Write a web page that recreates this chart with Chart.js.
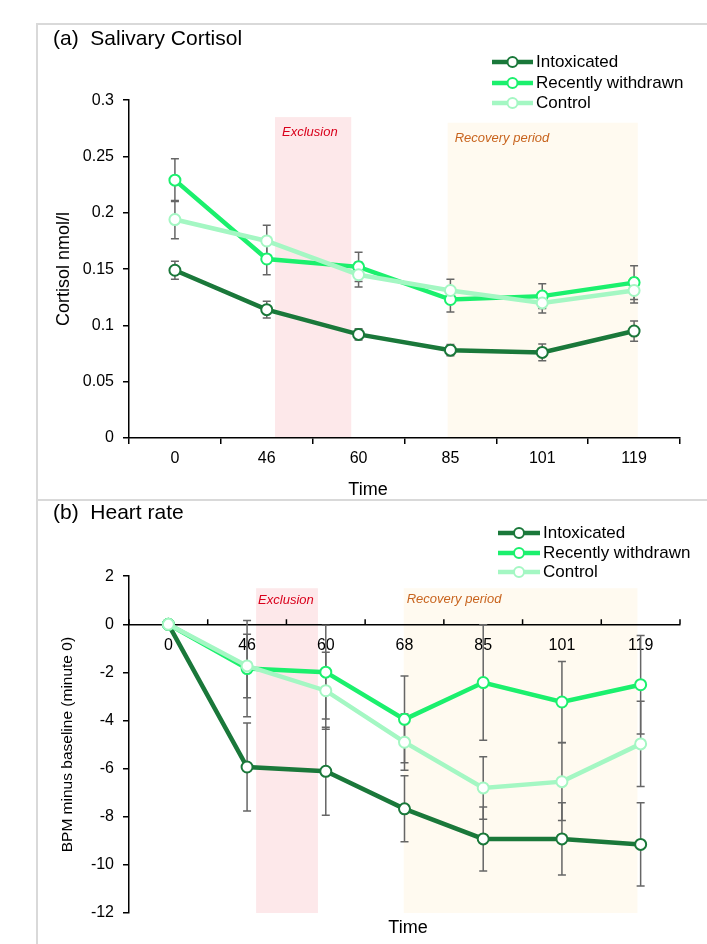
<!DOCTYPE html>
<html>
<head>
<meta charset="utf-8">
<script src="https://cdn.jsdelivr.net/npm/chart.js@4.4.1/dist/chart.umd.min.js"></script>
<style>
  body { margin: 0; background: #fff; width: 707px; height: 944px; overflow: hidden; position: relative; }
  #frame { position: absolute; left: 36px; top: 23px; width: 671px; height: 921px; border-left: 2px solid #d9d9d9; border-top: 2px solid #d9d9d9; }
  #sep { position: absolute; left: 38px; top: 499px; width: 669px; height: 2px; background: #d9d9d9; }
  #cortisol { position: absolute; left: 38px; top: 25px; }
  #heart { position: absolute; left: 38px; top: 501px; }
</style>
</head>
<body>
<div id="frame"></div>
<div id="sep"></div>
<canvas id="cortisol" width="669" height="474"></canvas>
<canvas id="heart" width="669" height="443"></canvas>
<script>
// panel (a) salivary cortisol, nmol/l
const timesA = ['0', '46', '60', '85', '101', '119'];
const cortIntox = [0.149, 0.114, 0.092, 0.078, 0.076, 0.095];
const cortIntoxErr = [0.008, 0.0075, 0.005, 0.005, 0.0075, 0.009];
const cortWithdrawn = [0.229, 0.159, 0.152, 0.123, 0.126, 0.138];
const cortWithdrawnErr = [0.019, 0.014, 0.013, 0.011, 0.011, 0.015];
const cortControl = [0.194, 0.175, 0.145, 0.131, 0.120, 0.131];
const cortControlErr = [0.017, 0.014, 0.011, 0.010, 0.009, 0.011];
const cortTicks = [0, 0.05, 0.1, 0.15, 0.2, 0.25, 0.3];

// panel (b) heart rate, BPM minus baseline
const timesB = ['0', '46', '60', '68', '85', '101', '119'];
const hrIntox = [0, -5.93, -6.11, -7.67, -8.92, -8.92, -9.15];
const hrIntoxErr = [0, 1.83, 1.83, 1.37, 1.33, 1.5, 1.73];
const hrWithdrawn = [0, -1.84, -1.99, -3.95, -2.42, -3.23, -2.51];
const hrWithdrawnErr = [0, 2.0, 1.95, 1.8, 2.4, 1.68, 2.05];
const hrControl = [0, -1.73, -2.76, -4.9, -6.8, -6.54, -4.97];
const hrControlErr = [0, 1.32, 1.6, 1.17, 1.3, 1.62, 1.77];
const hrTicks = [2, 0, -2, -4, -6, -8, -10, -12];

const groups = ['Intoxicated', 'Recently withdrawn', 'Control'];
const colors = ['#1a783a', '#1bf06d', '#a4f7c3'];

Chart.defaults.font.family = "'Liberation Sans', Arial, sans-serif";
Chart.defaults.color = '#000';

function series(i, data, errs) {
    return {
        label: groups[i],
        data: data,
        errorBars: errs,
        borderColor: colors[i],
        backgroundColor: colors[i],
        pointBackgroundColor: '#fff',
        pointBorderColor: colors[i],
        pointBorderWidth: 2,
        pointRadius: 5.5,
        borderWidth: 4.5,
        tension: 0,
        order: 3 - i,
    };
}

const decor = {
    id: 'decor',
    beforeDraw(chart, args, opts) {
        const { ctx, scales: { x, y } } = chart;
        ctx.save();
        opts.bands.forEach(b => {
            const x0 = x.getPixelForValue(b.from);
            const x1 = x.getPixelForValue(b.to);
            const y0 = y.getPixelForValue(b.top);
            const y1 = y.getPixelForValue(b.bottom);
            ctx.fillStyle = b.fill;
            ctx.fillRect(x0, y0, x1 - x0, y1 - y0);
            ctx.font = "italic 13px 'Liberation Sans', Arial, sans-serif";
            ctx.fillStyle = b.color;
            ctx.textAlign = 'left';
            ctx.textBaseline = 'middle';
            ctx.fillText(b.label, x0 + b.dx, y0 + b.dy);
        });
        ctx.restore();
    },
    beforeDatasetsDraw(chart, args, opts) {
        const { ctx, scales: { x, y } } = chart;
        ctx.save();
        // tick marks pointing up from a zero-line axis
        if (opts.upTicks) {
            const y0 = y.getPixelForValue(0);
            ctx.strokeStyle = '#000';
            ctx.lineWidth = 1.5;
            ctx.beginPath();
            for (let i = 0; i <= chart.data.labels.length; i++) {
                const px = x.getPixelForValue(i - 0.5);
                ctx.moveTo(px, y0); ctx.lineTo(px, y0 - 5);
            }
            ctx.stroke();
        }
        ctx.strokeStyle = '#666';
        ctx.lineWidth = 1.5;
        chart.data.datasets.forEach((ds, di) => {
            chart.getDatasetMeta(di).data.forEach((pt, i) => {
                const e = ds.errorBars[i];
                if (!e) return;
                const top = y.getPixelForValue(ds.data[i] + e);
                const bot = y.getPixelForValue(ds.data[i] - e);
                ctx.beginPath();
                ctx.moveTo(pt.x, top); ctx.lineTo(pt.x, bot);
                ctx.moveTo(pt.x - 4, top); ctx.lineTo(pt.x + 4, top);
                ctx.moveTo(pt.x - 4, bot); ctx.lineTo(pt.x + 4, bot);
                ctx.stroke();
            });
        });
        ctx.restore();
    },
    afterDraw(chart, args, opts) {
        const ctx = chart.ctx;
        const lg = opts.legend;
        ctx.save();
        groups.forEach((g, i) => {
            const yy = lg.ys[i];
            ctx.strokeStyle = colors[i];
            ctx.lineWidth = 4.5;
            ctx.beginPath();
            ctx.moveTo(lg.x0, yy); ctx.lineTo(lg.x1, yy);
            ctx.stroke();
            ctx.beginPath();
            ctx.arc((lg.x0 + lg.x1) / 2, yy, 5, 0, Math.PI * 2);
            ctx.fillStyle = '#fff';
            ctx.fill();
            ctx.lineWidth = 2;
            ctx.stroke();
            ctx.fillStyle = '#000';
            ctx.font = "17px 'Liberation Sans', Arial, sans-serif";
            ctx.textAlign = 'left';
            ctx.textBaseline = 'middle';
            ctx.fillText(g, lg.tx, yy);
        });
        ctx.font = "18px 'Liberation Sans', Arial, sans-serif";
        ctx.textAlign = 'center';
        ctx.fillText('Time', opts.time.x, opts.time.y);
        ctx.restore();
    }
};

const tickFmt = v => String(Math.round(v * 100) / 100);

new Chart(document.getElementById('cortisol'), {
    type: 'line',
    data: {
        labels: timesA,
        datasets: [
            series(0, cortIntox, cortIntoxErr),
            series(1, cortWithdrawn, cortWithdrawnErr),
            series(2, cortControl, cortControlErr),
        ],
    },
    options: {
        responsive: false,
        animation: false,
        layout: { padding: { left: 15, right: 27, top: 0, bottom: 0 } },
        scales: {
            x: {
                type: 'category',
                offset: true,
                afterFit: s => { s.height = 61; },
                grid: { drawOnChartArea: false, tickLength: 6, color: '#000', lineWidth: 1.5, offset: true },
                border: { color: '#000', width: 1.5 },
                ticks: { padding: 5, font: { size: 16 }, autoSkip: false, maxRotation: 0 },
            },
            y: {
                min: 0,
                max: 0.3,
                afterFit: s => { s.width = 76; },
                afterBuildTicks: s => { s.ticks = cortTicks.map(v => ({ value: v })); },
                grid: { drawOnChartArea: false, tickLength: 6, color: '#000', lineWidth: 1.5 },
                border: { color: '#000', width: 1.5 },
                ticks: { padding: 9, font: { size: 16 }, callback: tickFmt },
                title: { display: true, text: 'Cortisol nmol/l', font: { size: 18 }, padding: { top: 0, bottom: 0 } },
            },
        },
        plugins: {
            legend: { display: false },
            tooltip: { enabled: false },
            title: {
                display: true,
                text: '(a)  Salivary Cortisol',
                align: 'start',
                font: { size: 21, weight: 'normal' },
                padding: { top: 2, bottom: 48 },
            },
            decor: {
                bands: [
                    { from: 1.09, to: 1.92, top: 0.285, bottom: 0, fill: '#fde8ea', label: 'Exclusion', color: '#d9001b', dx: 7, dy: 15 },
                    { from: 2.97, to: 5.04, top: 0.28, bottom: 0, fill: '#fffaf0', label: 'Recovery period', color: '#c8641e', dx: 7, dy: 16 },
                ],
                legend: { x0: 454, x1: 495, tx: 498, ys: [37, 58, 78] },
                time: { x: 330, y: 465 },
                upTicks: false,
            },
        },
    },
    plugins: [decor],
});

new Chart(document.getElementById('heart'), {
    type: 'line',
    data: {
        labels: timesB,
        datasets: [
            series(0, hrIntox, hrIntoxErr),
            series(1, hrWithdrawn, hrWithdrawnErr),
            series(2, hrControl, hrControlErr),
        ],
    },
    options: {
        responsive: false,
        animation: false,
        layout: { padding: { left: 15, right: 27, top: 0, bottom: 31 } },
        scales: {
            y: {
                min: -12,
                max: 2,
                afterFit: s => { s.width = 76; },
                afterBuildTicks: s => { s.ticks = hrTicks.map(v => ({ value: v })); },
                grid: { drawOnChartArea: false, tickLength: 6, color: '#000', lineWidth: 1.5 },
                border: { color: '#000', width: 1.5 },
                ticks: { padding: 9, font: { size: 16 }, callback: tickFmt },
                title: { display: true, text: 'BPM minus baseline (minute 0)', font: { size: 15.5 }, padding: { top: 5, bottom: 0 } },
            },
            x: {
                type: 'category',
                position: { y: 0 },
                offset: true,
                afterFit: s => { s.height = 0; },
                grid: { drawOnChartArea: false, drawTicks: false, color: '#000', lineWidth: 1.5, offset: true },
                border: { color: '#000', width: 1.5 },
                ticks: { padding: 12, font: { size: 16 }, autoSkip: false, maxRotation: 0 },
            },
        },
        plugins: {
            legend: { display: false },
            tooltip: { enabled: false },
            title: {
                display: true,
                text: '(b)  Heart rate',
                align: 'start',
                font: { size: 21, weight: 'normal' },
                padding: { top: 0, bottom: 50 },
            },
            decor: {
                bands: [
                    { from: 1.115, to: 1.90, top: 1.5, bottom: -12, fill: '#fde8ea', label: 'Exclusion', color: '#d9001b', dx: 2, dy: 12 },
                    { from: 2.99, to: 5.96, top: 1.5, bottom: -12, fill: '#fffaf0', label: 'Recovery period', color: '#c8641e', dx: 3, dy: 11 },
                ],
                legend: { x0: 460, x1: 502, tx: 505, ys: [32, 52, 71] },
                time: { x: 370, y: 427 },
                upTicks: true,
            },
        },
    },
    plugins: [decor],
});
</script>
</body>
</html>
